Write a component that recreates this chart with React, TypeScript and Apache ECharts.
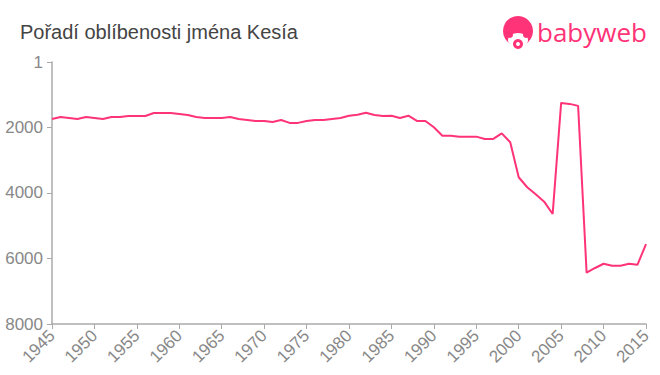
import React, { useEffect, useRef } from "react";
import * as echarts from "echarts";

const years: number[] = [];
for (let y = 1945; y <= 2015; y++) years.push(y);

const ranks = [
  1740, 1680, 1710, 1740, 1680, 1710, 1740, 1680, 1680, 1650,
  1650, 1650, 1560, 1560, 1560, 1590, 1620, 1680, 1710, 1710,
  1710, 1680, 1740, 1770, 1800, 1800, 1830, 1770, 1860, 1860,
  1800, 1770, 1770, 1740, 1710, 1640, 1610, 1550, 1620, 1650,
  1640, 1710, 1640, 1800, 1800, 1995, 2250, 2250, 2280, 2280,
  2280, 2350, 2350, 2180, 2450, 3520, 3825, 4040, 4265, 4640,
  1250, 1280, 1340, 6430, 6290, 6160, 6220, 6220, 6160, 6190,
  5560,
];

const yTicks = [1, 2000, 4000, 6000, 8000];
const title = "Pořadí oblíbenosti jména Kesía";
const PINK = "#ff3377";
const FONT = "Liberation Sans, Arial, sans-serif";

export default function App() {
  const ref = useRef<HTMLDivElement>(null);
  useEffect(() => {
    document.body.style.margin = "0";
    if (!ref.current) return;
    const chart = echarts.init(ref.current, null, { renderer: "svg" });
    chart.setOption({
      animation: false,
      backgroundColor: "#fff",
      textStyle: { fontFamily: FONT },
      title: {
        text: title,
        left: 15,
        top: 17,
        textStyle: { fontSize: 20, fontWeight: "normal", color: "#444", fontFamily: FONT },
      },
      graphic: [
        { type: "circle", shape: { cx: 518, cy: 31, r: 15 }, style: { fill: PINK } },
        { type: "ellipse", shape: { cx: 518, cy: 40, rx: 10, ry: 7 }, style: { fill: "#fff" } },
        { type: "circle", shape: { cx: 510, cy: 35, r: 3 }, style: { fill: PINK } },
        { type: "circle", shape: { cx: 526, cy: 35, r: 3 }, style: { fill: PINK } },
        { type: "circle", shape: { cx: 518, cy: 44, r: 5 }, style: { fill: PINK } },
        { type: "circle", shape: { cx: 518, cy: 44, r: 2 }, style: { fill: "#fff" } },
        {
          type: "text",
          x: 537,
          y: 19,
          style: { text: "babyweb", fill: PINK, fontSize: 26, fontWeight: 500, fontFamily: "Open Sans, Arial, sans-serif" },
        },
      ],
      grid: { left: 52, right: 14, top: 62, bottom: 51, containLabel: false },
      xAxis: {
        type: "value",
        min: 1945,
        max: 2015,
        interval: 5,
        axisLine: { lineStyle: { color: "#aaa", width: 1.5 } },
        axisTick: { show: true, length: 5, lineStyle: { color: "#aaa" } },
        splitLine: { show: false },
        axisLabel: { rotate: 45, color: "#888", fontSize: 17, margin: 9, formatter: (v: number) => String(v) },
      },
      yAxis: {
        type: "value",
        inverse: true,
        min: 1,
        max: 8000,
        axisLine: { show: true, lineStyle: { color: "#aaa", width: 1.5 } },
        axisTick: { show: true, length: 5, lineStyle: { color: "#aaa" }, customValues: yTicks },
        splitLine: { show: false },
        axisLabel: {
          color: "#888",
          fontSize: 17,
          margin: 9,
          align: "right",
          customValues: yTicks,
          formatter: (v: number) => String(v),
        },
      },
      series: [
        {
          type: "line",
          data: years.map((y, i) => [y, ranks[i]]),
          showSymbol: false,
          symbol: "none",
          lineStyle: { color: PINK, width: 2 },
        },
      ],
    });
    return () => chart.dispose();
  }, []);
  return <div ref={ref} style={{ width: 660, height: 375 }} />;
}
